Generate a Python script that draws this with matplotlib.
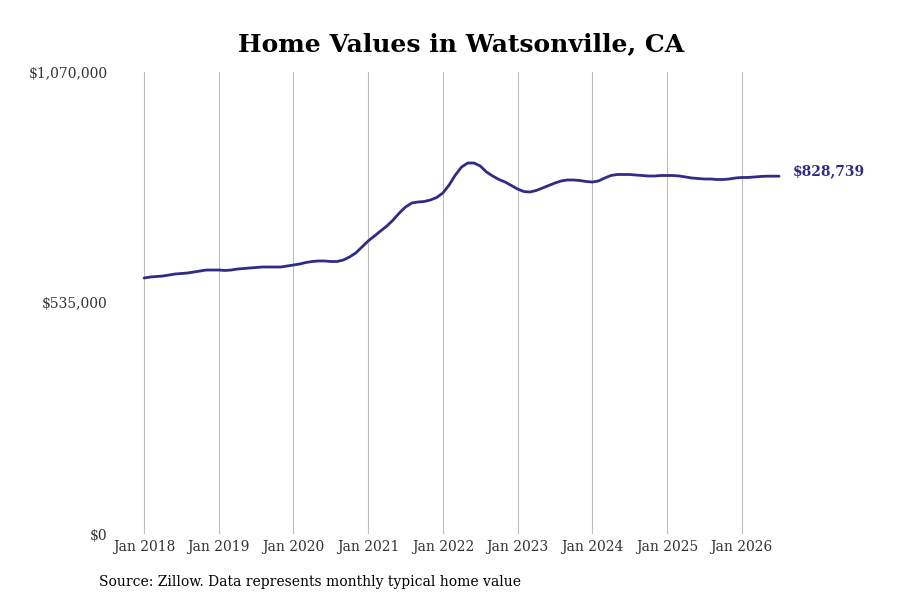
import numpy as np
import matplotlib.pyplot as plt

plt.rcParams['font.family'] = 'DejaVu Serif'

# monthly typical home value, Jan 2018 .. Jul 2026
values = [
    592900, 595200, 596400, 597500, 599800, 602200, 603300, 604500, 606800, 609100, 611400, 611400,
    611400, 610300, 611400, 613700, 614900, 616100, 617200, 618400, 618400, 618400, 618400, 620700,
    623000, 625300, 628800, 631100, 632300, 632300, 631100, 631100, 634600, 641500, 650800, 664700,
    678600, 690200, 701800, 713300, 727200, 743400, 757300, 766600, 768900, 770100, 773600, 779300,
    789800, 808300, 831400, 850000, 859200, 859200, 852300, 838400, 829100, 821000, 815200, 807100,
    799000, 793200, 792100, 795600, 801300, 807100, 812900, 817600, 819900, 819900, 818700, 816400,
    815200, 817600, 824500, 830300, 832600, 832600, 832600, 831400, 830300, 829100, 829100, 830300,
    830300, 830300, 829100, 826800, 824500, 823300, 822200, 822200, 821000, 821000, 822200, 824500,
    825700, 825700, 826800, 828000, 828700, 828700, 828739,
]
tick_labels = ['Jan 2018', 'Jan 2019', 'Jan 2020', 'Jan 2021', 'Jan 2022',
               'Jan 2023', 'Jan 2024', 'Jan 2025', 'Jan 2026']
y_ticks = [0, 535000, 1070000]
y_labels = ['$0', '$535,000', '$1,070,000']

line_color = '#2f2b87'
months = np.arange(len(values))

fig = plt.figure(figsize=(9, 6), dpi=100)
ax = fig.add_axes([112/900, 66/600, 748/900, 462/600])

ax.plot(months, values, color=line_color, lw=2, solid_capstyle='round')
ax.annotate(f'${values[-1]:,}', xy=(months[-1], values[-1]), xytext=(10, 3.5),
            textcoords='offset points', va='center', ha='left',
            color=line_color, fontweight='bold', fontsize=10)

ax.set_xlim(-5.15, 115)
ax.set_ylim(0, 1070000)
ax.set_xticks(np.arange(0, 12 * len(tick_labels), 12))
ax.set_xticklabels(tick_labels)
ax.set_yticks(y_ticks)
ax.set_yticklabels(y_labels)
ax.grid(axis='x', color='#bdbdbd', lw=0.8)
for s in ax.spines.values():
    s.set_visible(False)
ax.tick_params(axis='y', length=0, labelsize=10, colors='#333333', pad=3)
ax.tick_params(axis='x', length=0, labelsize=10, colors='#333333', pad=4)

fig.text(461/900, 1 - 44/600, 'Home Values in Watsonville, CA', fontsize=18,
         fontweight='bold', ha='center', va='center')
fig.text(99/900, 18/600, 'Source: Zillow. Data represents monthly typical home value',
         fontsize=10, va='center', ha='left')

fig.savefig('out.png', dpi=100)
